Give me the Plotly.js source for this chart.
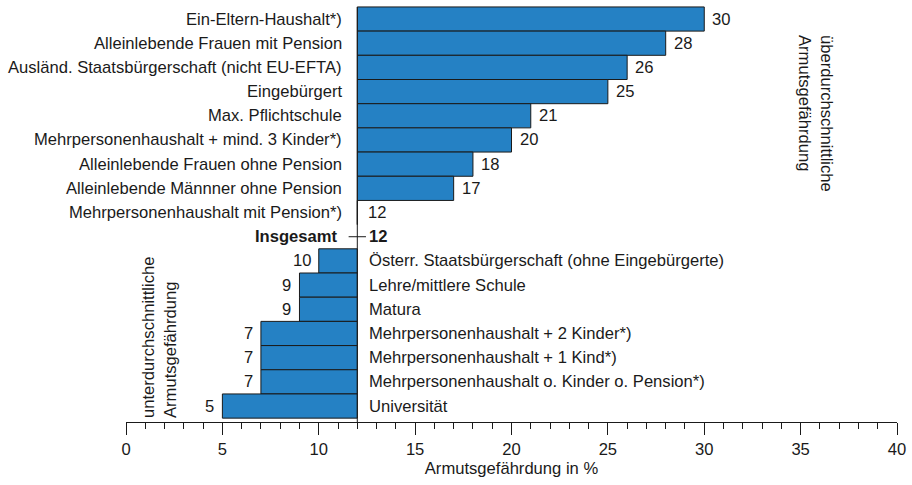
<!DOCTYPE html>
<html><head><meta charset="utf-8">
<script src="https://cdn.plot.ly/plotly-3.0.1.min.js"></script>
<style>body{margin:0;background:#fff}#c{width:912px;height:485px}</style>
</head><body><div id="c"></div>
<script>
const aboveCats = ["Ein-Eltern-Haushalt*)","Alleinlebende Frauen mit Pension","Ausländ. Staatsbürgerschaft (nicht EU-EFTA)","Eingebürgert","Max. Pflichtschule","Mehrpersonenhaushalt + mind. 3 Kinder*)","Alleinlebende Frauen ohne Pension","Alleinlebende Männner ohne Pension","Mehrpersonenhaushalt mit Pension*)"];
const aboveVals = [30,28,26,25,21,20,18,17,12];
const totalCat = "Insgesamt";
const totalVal = 12;
const belowCats = ["Österr. Staatsbürgerschaft (ohne Eingebürgerte)","Lehre/mittlere Schule","Matura","Mehrpersonenhaushalt + 2 Kinder*)","Mehrpersonenhaushalt + 1 Kind*)","Mehrpersonenhaushalt o. Kinder o. Pension*)","Universität"];
const belowVals = [10,9,9,7,7,7,5];
const xTickVals = [0,5,10,15,20,25,30,35,40];
const xTitle = "Armutsgefährdung in %";
const noteAbove = "überdurchschnittliche<br>Armutsgefährdung";
const noteBelow = "unterdurchschnittliche<br>Armutsgefährdung";

const allCats = aboveCats.concat([totalCat], belowCats);
const FONT = "Liberation Sans, Arial, sans-serif";
const FS = 16.6;
const TC = '#1a1a1a';
const barColor = "#2581c4";

const traces = [
  {type:'bar', orientation:'h', y:aboveCats, x:aboveVals.map(v=>v-totalVal), base:totalVal,
   marker:{color:barColor, line:{color:TC, width:1}}, width:1, hoverinfo:'skip'},
  {type:'bar', orientation:'h', y:belowCats, x:belowVals.map(v=>totalVal-v), base:belowVals,
   marker:{color:barColor, line:{color:TC, width:1}}, width:1, hoverinfo:'skip'}
];

const f = {family:FONT,size:FS,color:TC};
const ann = [];
aboveCats.forEach((c,i)=>{
  ann.push({x:totalVal, y:c, xref:'x', yref:'y', text:c, showarrow:false, xanchor:'right', xshift:-13, font:f});
  ann.push({x:aboveVals[i], y:c, xref:'x', yref:'y', text:String(aboveVals[i]), showarrow:false, xanchor:'left', xshift:(aboveVals[i]===totalVal?9:6), font:f});
});
ann.push({x:totalVal, y:totalCat, xref:'x', yref:'y', text:'<b>'+totalCat+'</b>', showarrow:false, xanchor:'right', xshift:-17, font:f});
ann.push({x:totalVal, y:totalCat, xref:'x', yref:'y', text:'<b>'+totalVal+'</b>', showarrow:false, xanchor:'left', xshift:10, font:f});
belowCats.forEach((c,i)=>{
  ann.push({x:totalVal, y:c, xref:'x', yref:'y', text:c, showarrow:false, xanchor:'left', xshift:10, font:f});
  ann.push({x:belowVals[i], y:c, xref:'x', yref:'y', text:String(belowVals[i]), showarrow:false, xanchor:'right', xshift:-6, font:f});
});

const L=126, R=15, T=5, B=63, W=912, H=485;
const pw=W-L-R, ph=H-T-B;
ann.push({x:(815-L)/pw, y:1-(113-T)/ph, xref:'paper', yref:'paper', xanchor:'center', yanchor:'middle', text:noteAbove, showarrow:false, textangle:90, align:'left', font:f});
ann.push({x:(159-L)/pw, y:1-(338-T)/ph, xref:'paper', yref:'paper', xanchor:'center', yanchor:'middle', text:noteBelow, showarrow:false, textangle:-90, align:'left', font:f});

const yBottom = allCats.length-1+0.66;
const yTop = -0.58;
const shapes = [
  {type:'line', xref:'x', yref:'y', x0:totalVal, x1:totalVal, y0:-0.5, y1:yBottom, line:{color:TC, width:1}},
  {type:'line', xref:'x', yref:'y', x0:totalVal-0.45, x1:totalVal+0.45, y0:aboveCats.length, y1:aboveCats.length, line:{color:TC, width:1}}
];

const layout = {
  width:W, height:H, margin:{l:L,r:R,t:T,b:B}, paper_bgcolor:'#fff', plot_bgcolor:'#fff',
  showlegend:false, barmode:'overlay', bargap:0,
  font:f,
  xaxis:{range:[0,40], tickvals:xTickVals, ticktext:xTickVals.map(String), showgrid:false, zeroline:false,
    showline:true, linecolor:TC, linewidth:1, ticks:'outside', ticklen:12, tickcolor:TC, tickwidth:1,
    minor:{dtick:1, ticks:'outside', ticklen:6, tickcolor:TC, tickwidth:1, showgrid:false},
    tickfont:f,
    title:{text:xTitle, font:f, standoff:3}},
  yaxis:{type:'category', categoryorder:'array', categoryarray:allCats, range:[yBottom, yTop], visible:false, showgrid:false, zeroline:false},
  annotations:ann, shapes:shapes
};
Plotly.newPlot('c', traces, layout, {staticPlot:true, displayModeBar:false});
</script></body></html>
